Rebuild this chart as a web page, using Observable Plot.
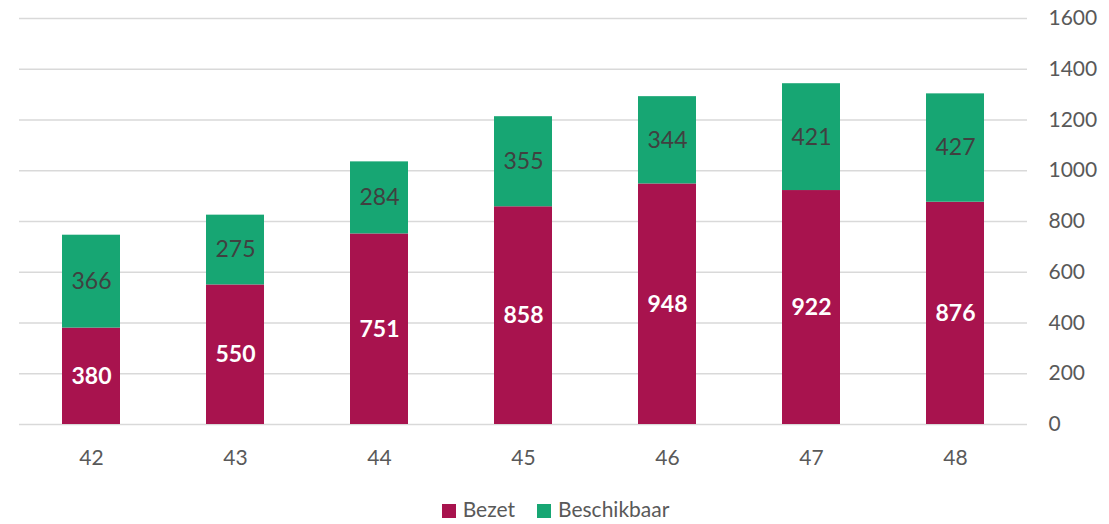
<!DOCTYPE html>
<html>
<head>
<meta charset="utf-8">
<script src="https://cdn.jsdelivr.net/npm/d3@7"></script>
<script src="https://cdn.jsdelivr.net/npm/@observablehq/plot@0.6"></script>
<style>
  html, body { margin: 0; padding: 0; background: #fff; }
  #chart svg { display: block; }
  .legend { display: flex; justify-content: center; align-items: center; gap: 22px;
    font-family: Lato, "Open Sans", sans-serif; font-size: 21px; color: #595959; height: 44px; margin-left: 2px; padding-top: 6px; }
  .legend span.sw { display: inline-block; width: 14px; height: 14px; margin-right: 7px; vertical-align: -1px; }
</style>
</head>
<body>
<div id="chart"></div>
<div class="legend">
  <div><span class="sw" style="background:#A8134E"></span>Bezet</div>
  <div><span class="sw" style="background:#17A673"></span>Beschikbaar</div>
</div>
<script>
const weeks = ["42", "43", "44", "45", "46", "47", "48"];
const bezet = [380, 550, 751, 858, 948, 922, 876];
const beschikbaar = [366, 275, 284, 355, 344, 421, 427];
const series = ["Bezet", "Beschikbaar"];
const colors = ["#A8134E", "#17A673"];
const yTicks = [0, 200, 400, 600, 800, 1000, 1200, 1400, 1600];

const data = [];
weeks.forEach((w, i) => {
  data.push({week: w, series: "Bezet", value: bezet[i]});
  data.push({week: w, series: "Beschikbaar", value: beschikbaar[i]});
});

const font = "Lato, 'Open Sans', sans-serif";
const stackOpts = {x: "week", y: "value", z: "series", order: series, text: "value"};

const plot = Plot.plot({
  width: 1109,
  height: 480,
  marginTop: 18,
  marginBottom: 56,
  marginLeft: 19,
  marginRight: 82,
  style: {fontFamily: font, fontSize: "21px", color: "#595959", background: "#fff"},
  x: {domain: weeks, paddingInner: 0.6, paddingOuter: 0.3, label: null},
  y: {domain: [0, 1600], label: null},
  color: {domain: series, range: colors},
  marks: [
    Plot.gridY(yTicks, {stroke: "#d9d9d9", strokeOpacity: 1, strokeWidth: 1.4}),
    Plot.axisY(yTicks, {anchor: "right", tickSize: 0, tickPadding: 21, textAnchor: "start", fontSize: 21, fill: "#595959", label: null, tickFormat: d => String(d)}),
    Plot.axisX({tickSize: 0, tickPadding: 26, fontSize: 21, fill: "#595959", label: null}),
    Plot.barY(data, {x: "week", y: "value", fill: "series", order: series}),
    Plot.text(data, Plot.stackY({...stackOpts,
      text: d => d.series === "Bezet" ? d.value : "",
      fill: "#ffffff", fontWeight: "bold", fontSize: 23})),
    Plot.text(data, Plot.stackY({...stackOpts,
      text: d => d.series === "Beschikbaar" ? d.value : "",
      fill: "#404040", fontSize: 23}))
  ]
});
document.getElementById("chart").appendChild(plot);
</script>
</body>
</html>
